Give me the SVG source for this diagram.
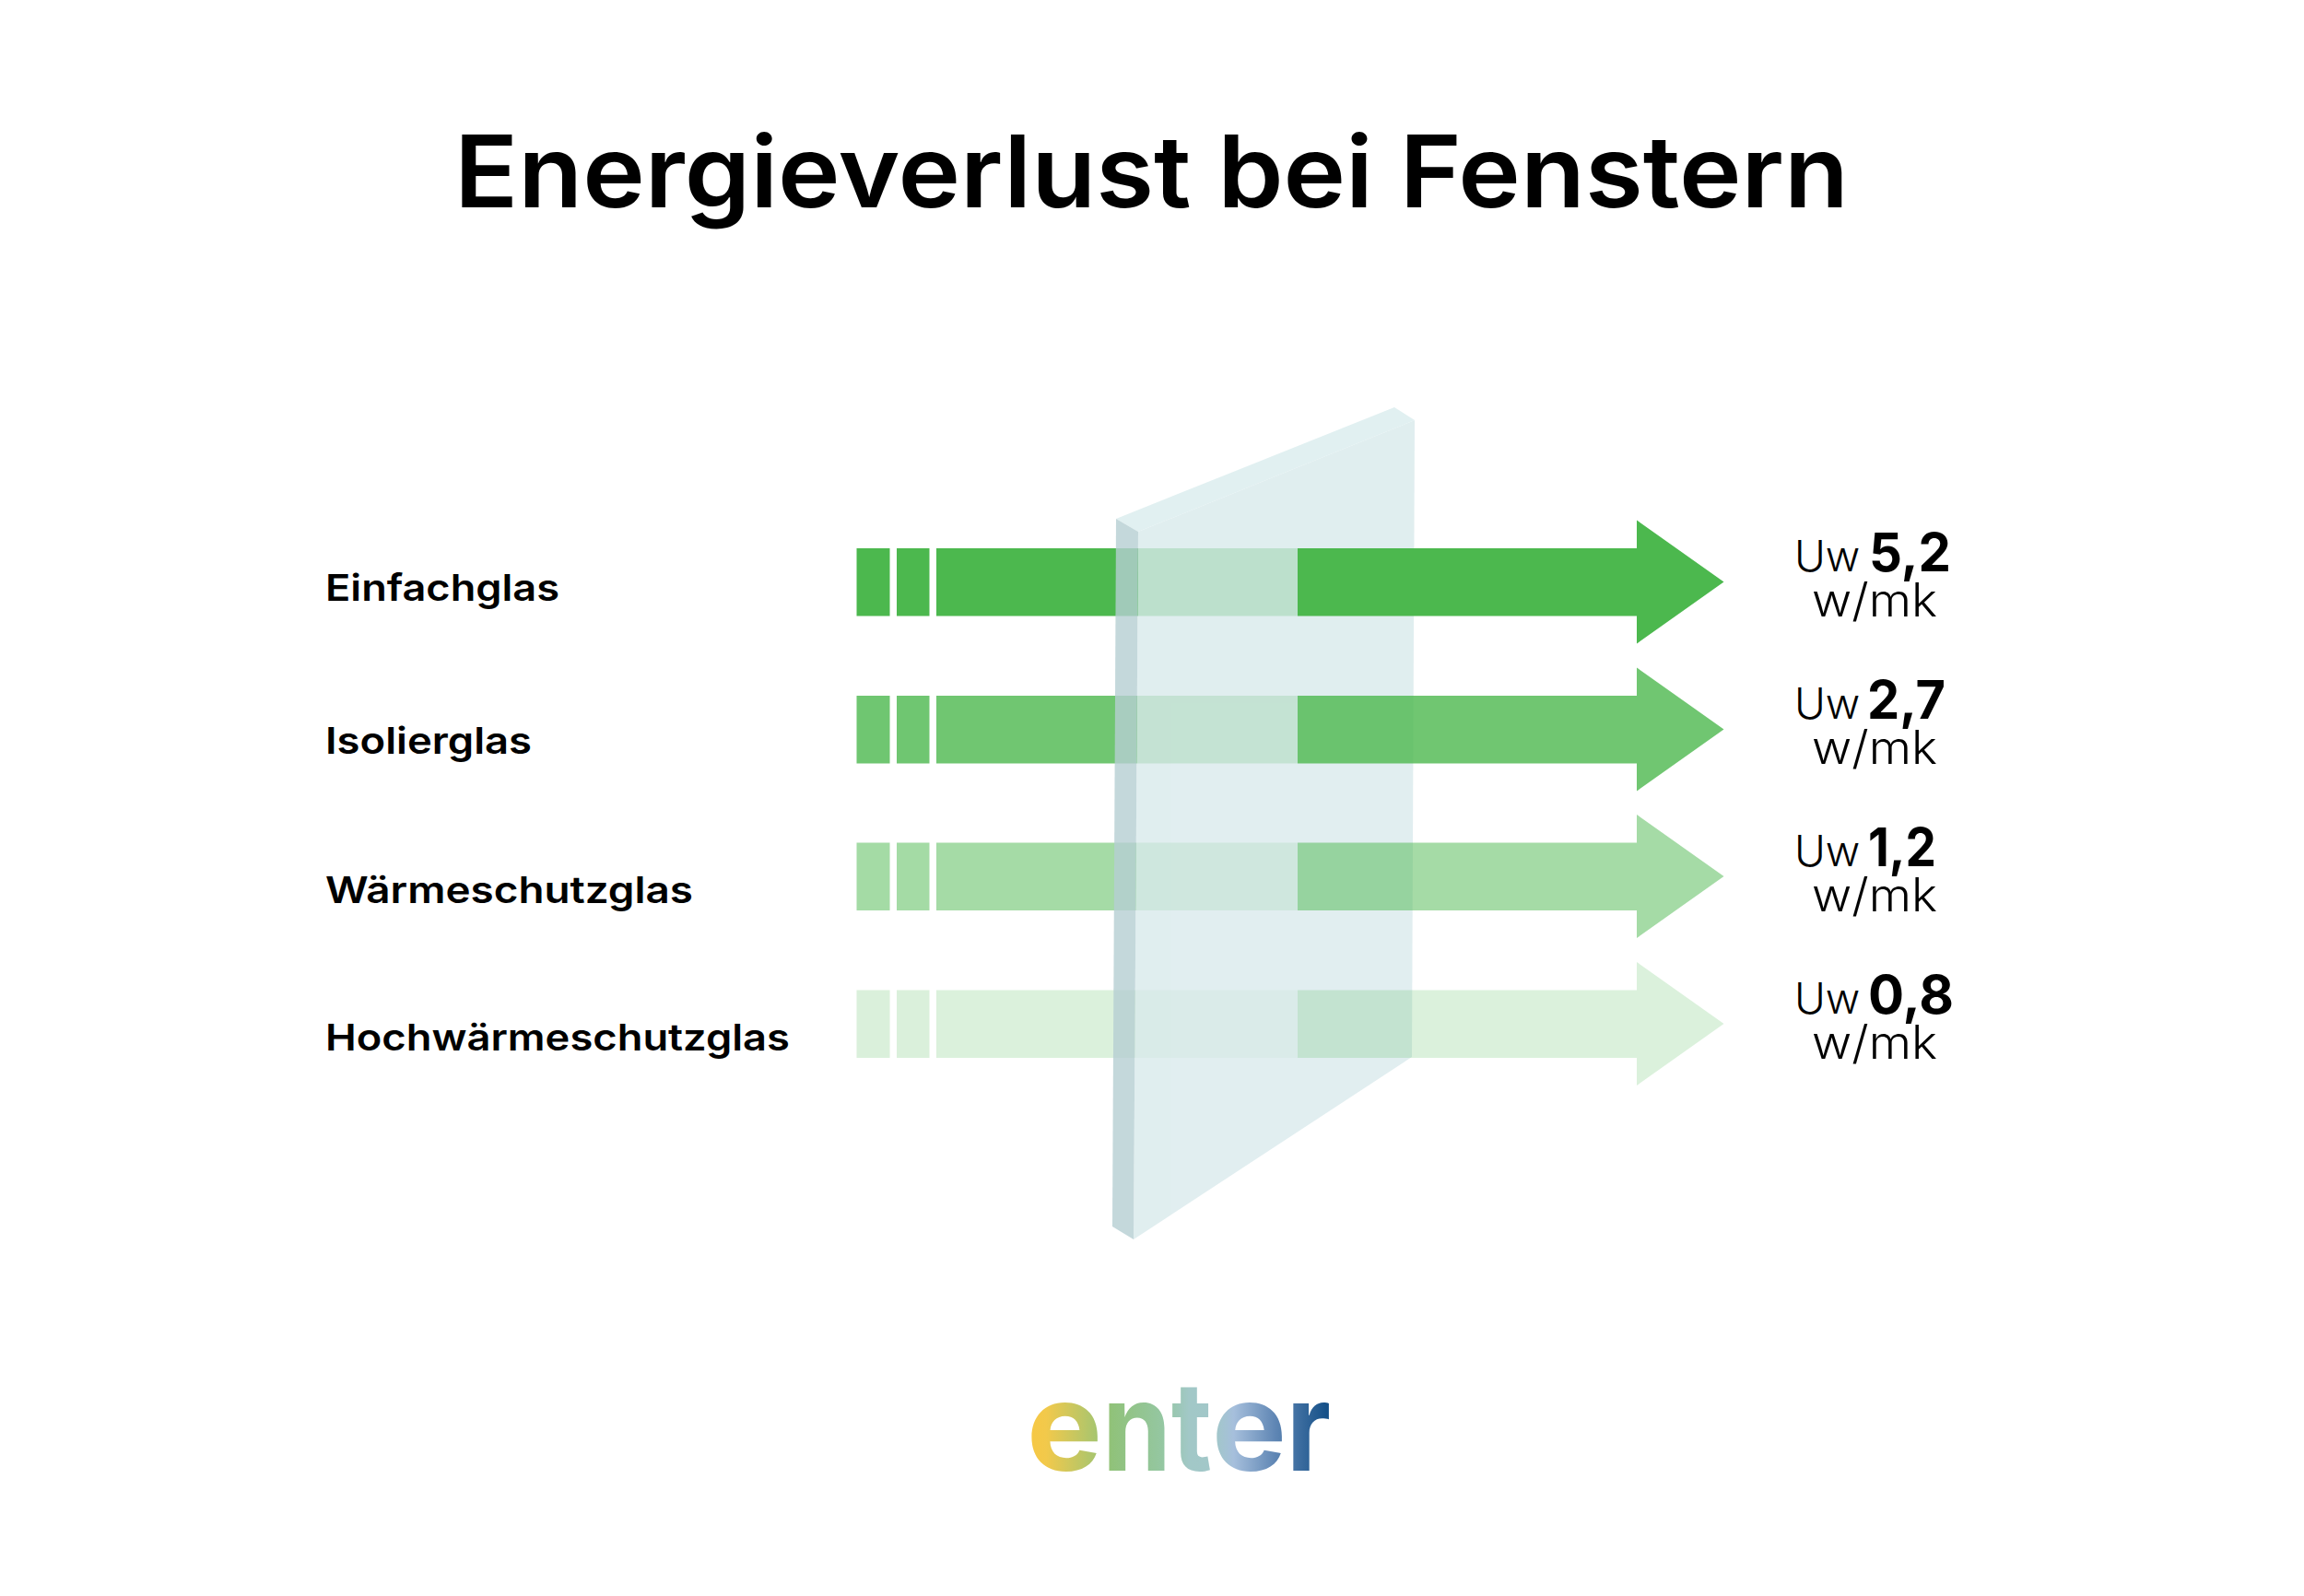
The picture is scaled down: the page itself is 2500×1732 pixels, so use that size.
<svg xmlns="http://www.w3.org/2000/svg" width="2500" height="1732" viewBox="0 0 2500 1732">
<style>
text{font-family:"Inter","Liberation Sans",sans-serif;fill:#000}
.title{font-size:108px;font-weight:600}
.label{font-size:40px;font-weight:600}
.uw{font-size:46px;font-weight:300}
.val{font-size:58px;font-weight:700}
.unit{font-size:50px;font-weight:300}
.g{fill:#4CB84E}
.r1{opacity:1}.r2{opacity:.8}.r3{opacity:.5}.r4{opacity:.2}
</style>
<defs>
<g id="tail"><rect class="g" x="929.5" y="0" width="36" height="73.5"/><rect class="g" x="973" y="0" width="35.5" height="73.5"/><rect class="g" x="1016" y="0" width="392" height="73.5"/></g>
<polygon id="head" class="g" points="1408,0 1776,0 1776,-30.5 1870.5,36.5 1776,103.5 1776,73.5 1408,73.5"/>
<linearGradient id="logo" gradientUnits="userSpaceOnUse" x1="1119" y1="0" x2="1442" y2="0">
<stop offset="0" stop-color="#F6C845"/><stop offset=".05" stop-color="#F2C94B"/><stop offset=".22" stop-color="#A7C56F"/><stop offset=".27" stop-color="#90C27A"/><stop offset=".45" stop-color="#95C7A4"/><stop offset=".53" stop-color="#A2C8C7"/><stop offset=".62" stop-color="#A2C7C9"/><stop offset=".68" stop-color="#A6BFDC"/><stop offset=".82" stop-color="#5F86B4"/><stop offset="1" stop-color="#124E86"/>
</linearGradient>
</defs>
<rect width="2500" height="1732" fill="#fff"/>
<g id="title"><text class="title" x="493" y="225" textLength="1513" lengthAdjust="spacingAndGlyphs">Energieverlust bei Fenstern</text></g>
<g id="labels">
<text class="label" x="353" y="651.5" textLength="254" lengthAdjust="spacingAndGlyphs">Einfachglas</text>
<text class="label" x="353" y="817.5" textLength="224" lengthAdjust="spacingAndGlyphs">Isolierglas</text>
<text class="label" x="353" y="979.5" textLength="399" lengthAdjust="spacingAndGlyphs">Wärmeschutzglas</text>
<text class="label" x="353" y="1139.5" textLength="504" lengthAdjust="spacingAndGlyphs">Hochwärmeschutzglas</text>
</g>
<g id="tails">
<use href="#tail" class="r1" y="595"/>
<use href="#tail" class="r2" y="755"/>
<use href="#tail" class="r3" y="914.5"/>
<use href="#tail" class="r4" y="1074.5"/>
</g>
<g id="glass" opacity=".8">
<polygon fill="#D9EAEC" points="1235,577 1535,456 1532,1147 1230,1345"/>
<polygon fill="#DAEDEE" points="1211,563 1513,442 1535,456 1235,577"/>
<polygon fill="#B6CFD3" points="1211,563 1235,577 1230,1345 1207,1331"/>
</g>
<g id="arrows">
<use href="#head" class="r1" y="595"/>
<use href="#head" class="r2" y="755"/>
<use href="#head" class="r3" y="914.5"/>
<use href="#head" class="r4" y="1074.5"/>
</g>
<g id="value-1"><text class="uw" x="1947" y="620">Uw</text><text class="val" x="2028" y="620" textLength="89" lengthAdjust="spacingAndGlyphs">5,2</text><text class="unit" x="1966" y="669" textLength="136" lengthAdjust="spacingAndGlyphs">w/mk</text></g>
<g id="value-2"><text class="uw" x="1947" y="780">Uw</text><text class="val" x="2026" y="780" textLength="85" lengthAdjust="spacingAndGlyphs">2,7</text><text class="unit" x="1966" y="829" textLength="136" lengthAdjust="spacingAndGlyphs">w/mk</text></g>
<g id="value-3"><text class="uw" x="1947" y="940">Uw</text><text class="val" x="2027" y="940" textLength="74" lengthAdjust="spacingAndGlyphs">1,2</text><text class="unit" x="1966" y="989" textLength="136" lengthAdjust="spacingAndGlyphs">w/mk</text></g>
<g id="value-4"><text class="uw" x="1947" y="1100">Uw</text><text class="val" x="2027" y="1100" textLength="93" lengthAdjust="spacingAndGlyphs">0,8</text><text class="unit" x="1966" y="1149" textLength="136" lengthAdjust="spacingAndGlyphs">w/mk</text></g>
<g id="logo-mark"><text y="1596" font-size="134" font-weight="700" style="fill:url(#logo)"><tspan x="1114" textLength="82" lengthAdjust="spacingAndGlyphs">e</tspan><tspan x="1196" textLength="75" lengthAdjust="spacingAndGlyphs">n</tspan><tspan x="1271" textLength="44" lengthAdjust="spacingAndGlyphs">t</tspan><tspan x="1315" textLength="81" lengthAdjust="spacingAndGlyphs">e</tspan><tspan x="1396" textLength="48" lengthAdjust="spacingAndGlyphs">r</tspan></text></g>
</svg>
